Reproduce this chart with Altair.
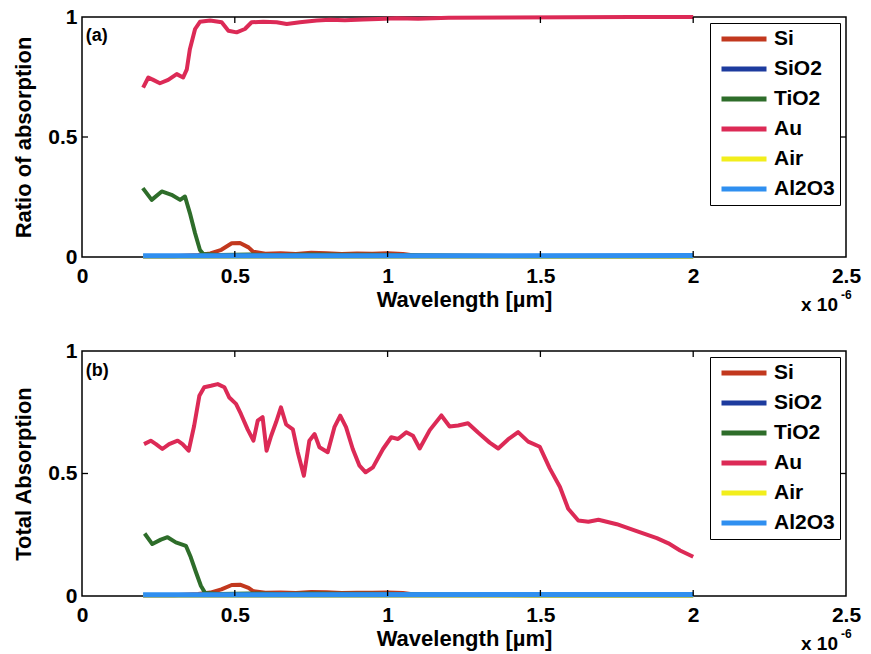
import altair as alt
import pandas as pd

FONT = "Liberation Sans"

SERIES = ["Si", "SiO2", "TiO2", "Au", "Air", "Al2O3"]
COLORS = ["#c2381e", "#1d3b9e", "#2e6d2a", "#dc2a56", "#f2ee1c", "#2f8ff0"]
X_TICKS = [0, 0.5, 1, 1.5, 2, 2.5]
Y_TICKS = [0, 0.5, 1]

# ---------------- panel (a) ----------------
a_au_x = [0.20, 0.217, 0.233, 0.255, 0.282, 0.31, 0.331, 0.343, 0.353, 0.37, 0.386, 0.419, 0.457,
          0.479, 0.506, 0.533, 0.555, 0.593, 0.637, 0.67, 0.713, 0.768, 0.812, 0.86, 0.92, 0.97,
          1.03, 1.1, 1.2, 1.4, 1.6, 1.8, 2.0]
a_au_y = [0.706, 0.748, 0.738, 0.724, 0.738, 0.762, 0.748, 0.782, 0.866, 0.95, 0.98, 0.985, 0.978,
          0.943, 0.936, 0.95, 0.978, 0.98, 0.978, 0.971, 0.978, 0.985, 0.989, 0.986, 0.99, 0.992,
          0.995, 0.993, 0.997, 0.998, 0.999, 1.0, 1.0]
a_tio2_x = [0.199, 0.228, 0.261, 0.293, 0.321, 0.337, 0.353, 0.37, 0.386, 0.397, 0.45, 0.55, 0.65,
            0.75, 0.85, 0.95, 1.05, 1.5, 2.0]
a_tio2_y = [0.287, 0.238, 0.273, 0.259, 0.238, 0.252, 0.183, 0.099, 0.029, 0.012, 0.008, 0.01,
            0.008, 0.01, 0.009, 0.009, 0.008, 0.003, 0.003]
a_si_x = [0.2, 0.3, 0.38, 0.42, 0.456, 0.49, 0.517, 0.545, 0.56, 0.6, 0.65, 0.7, 0.75, 0.8, 0.85,
          0.9, 0.95, 1.0, 1.05, 1.1, 1.5, 2.0]
a_si_y = [0.003, 0.003, 0.008, 0.015, 0.03, 0.057, 0.058, 0.04, 0.022, 0.014, 0.016, 0.013, 0.018,
          0.016, 0.013, 0.015, 0.014, 0.016, 0.013, 0.004, 0.004, 0.004]

# ---------------- panel (b) ----------------
b_au_x = [0.203, 0.225, 0.242, 0.263, 0.285, 0.313, 0.329, 0.349, 0.367, 0.384, 0.40, 0.422, 0.444,
          0.466, 0.482, 0.504, 0.52, 0.542, 0.561, 0.575, 0.591, 0.604, 0.619, 0.635, 0.651, 0.668,
          0.69, 0.706, 0.726, 0.744, 0.761, 0.777, 0.804, 0.826, 0.845, 0.864, 0.886, 0.908, 0.928,
          0.952, 0.985, 1.012, 1.034, 1.061, 1.083, 1.105, 1.138, 1.176, 1.203, 1.231, 1.263, 1.296,
          1.334, 1.362, 1.394, 1.427, 1.46, 1.498, 1.531, 1.564, 1.591, 1.624, 1.657, 1.69, 1.75,
          1.815, 1.881, 1.919, 1.957, 2.0]
b_au_y = [0.62, 0.634, 0.62, 0.60, 0.62, 0.634, 0.62, 0.593, 0.695, 0.817, 0.852, 0.858, 0.865,
          0.852, 0.81, 0.784, 0.743, 0.68, 0.634, 0.716, 0.73, 0.593, 0.654, 0.709, 0.77, 0.70,
          0.68, 0.587, 0.491, 0.634, 0.661, 0.607, 0.587, 0.689, 0.736, 0.689, 0.60, 0.532, 0.505,
          0.525, 0.60, 0.648, 0.641, 0.668, 0.654, 0.602, 0.677, 0.737, 0.692, 0.696, 0.705, 0.667,
          0.626, 0.602, 0.639, 0.669, 0.63, 0.609, 0.52, 0.445, 0.356, 0.308, 0.303, 0.311, 0.293,
          0.265, 0.236, 0.215, 0.186, 0.16]
b_tio2_x = [0.205, 0.23, 0.258, 0.28, 0.307, 0.34, 0.356, 0.373, 0.389, 0.403, 0.45, 0.55, 0.65,
            0.75, 0.85, 0.95, 1.05, 1.5, 2.0]
b_tio2_y = [0.255, 0.212, 0.23, 0.24, 0.219, 0.205, 0.158, 0.097, 0.042, 0.012, 0.008, 0.01, 0.008,
            0.01, 0.009, 0.009, 0.008, 0.003, 0.003]
b_si_x = [0.2, 0.3, 0.38, 0.42, 0.456, 0.49, 0.517, 0.545, 0.56, 0.6, 0.65, 0.7, 0.75, 0.8, 0.85,
          0.9, 0.95, 1.0, 1.05, 1.1, 1.5, 2.0]
b_si_y = [0.003, 0.003, 0.008, 0.014, 0.027, 0.045, 0.046, 0.033, 0.02, 0.013, 0.014, 0.012, 0.016,
          0.015, 0.012, 0.013, 0.013, 0.014, 0.012, 0.004, 0.004, 0.004]

# near-zero layers (hidden under Al2O3 in the original)
flat_x = [0.2, 2.0]
sio2_y = [0.002, 0.002]
air_y = [0.002, 0.002]
al2o3_y = [0.005, 0.006]


def build_panel(series, ytitle, tag, W, H):
    rows = []
    for name in SERIES:
        xs, ys = series[name]
        for i, (x, y) in enumerate(zip(xs, ys)):
            rows.append({"wl": x, "val": y, "mat": name, "i": i})
    df = pd.DataFrame(rows)

    xenc = alt.X("wl:Q", scale=alt.Scale(domain=[0, 2.5], nice=False, zero=False),
                 axis=alt.Axis(values=X_TICKS, format="~g", title="Wavelength [µm]",
                               labelPadding=8, titlePadding=3, labelFlush=False))
    yenc = alt.Y("val:Q", scale=alt.Scale(domain=[0, 1], nice=False),
                 axis=alt.Axis(values=Y_TICKS, format="~g", title=ytitle,
                               labelPadding=5, titlePadding=12))
    color = alt.Color("mat:N", scale=alt.Scale(domain=SERIES, range=COLORS),
                      legend=alt.Legend(title=None, orient="top-right", offset=6,
                                        strokeColor="black", fillColor="white",
                                        padding=5, rowPadding=8, clipHeight=22,
                                        symbolType="stroke", symbolStrokeWidth=5,
                                        symbolSize=2025, symbolOffset=4, labelOffset=5,
                                        labelFont=FONT, labelFontSize=21,
                                        labelFontWeight="bold", labelColor="black"))

    base = alt.Chart(df)
    lines = base.transform_filter(alt.datum.mat != "Al2O3").mark_line(
        strokeWidth=4, strokeJoin="round").encode(x=xenc, y=yenc, color=color, order="i:Q")
    al = base.transform_filter(alt.datum.mat == "Al2O3").mark_line(
        strokeWidth=5).encode(x=xenc, y=yenc, color=color, order="i:Q")

    tx = pd.DataFrame({"wl": [0.5, 1, 1.5, 2]})
    ty = pd.DataFrame({"val": [0.5]})
    t_bot = alt.Chart(tx).mark_rule(color="black", strokeWidth=1.3).encode(
        x=xenc, y=alt.value(H), y2=alt.value(H - 6))
    t_top = alt.Chart(tx).mark_rule(color="black", strokeWidth=1.3).encode(
        x=xenc, y=alt.value(0), y2=alt.value(6))
    t_left = alt.Chart(ty).mark_rule(color="black", strokeWidth=1.3).encode(
        y=yenc, x=alt.value(0), x2=alt.value(6))
    t_right = alt.Chart(ty).mark_rule(color="black", strokeWidth=1.3).encode(
        y=yenc, x=alt.value(W), x2=alt.value(W - 6))

    lab = alt.Chart(pd.DataFrame({"wl": [0.012], "val": [0.92], "txt": [tag]})).mark_text(
        align="left", baseline="middle", font=FONT, fontSize=18, fontWeight="bold",
        color="black").encode(x=xenc, y=yenc, text="txt:N")

    mult = alt.Chart(pd.DataFrame({"wl": [2.5], "txt": ["x 10"]})).mark_text(
        align="right", baseline="middle", font=FONT, fontSize=19, fontWeight="bold",
        color="black", dx=-8).encode(x=xenc, y=alt.value(H + 48), text="txt:N")
    expo = alt.Chart(pd.DataFrame({"wl": [2.5], "txt": ["-6"]})).mark_text(
        align="left", baseline="middle", font=FONT, fontSize=12, fontWeight="bold",
        color="black", dx=-5).encode(x=xenc, y=alt.value(H + 38), text="txt:N")

    return alt.layer(lines, al, t_bot, t_top, t_left, t_right, lab, mult, expo).properties(
        width=W, height=H)


top = build_panel({
    "Si": (a_si_x, a_si_y), "SiO2": (flat_x, sio2_y), "TiO2": (a_tio2_x, a_tio2_y),
    "Au": (a_au_x, a_au_y), "Air": (flat_x, air_y), "Al2O3": (flat_x, al2o3_y)},
    "Ratio of absorption", "(a)", 764, 240)
bottom = build_panel({
    "Si": (b_si_x, b_si_y), "SiO2": (flat_x, sio2_y), "TiO2": (b_tio2_x, b_tio2_y),
    "Au": (b_au_x, b_au_y), "Air": (flat_x, air_y), "Al2O3": (flat_x, al2o3_y)},
    "Total Absorption", "(b)", 764, 245)

chart = alt.vconcat(top, bottom, spacing=23).resolve_legend(color="independent").resolve_scale(
    color="independent").properties(
    padding={"left": 12, "top": 5, "right": 5, "bottom": 2}, background="white"
).configure_view(stroke="black", strokeWidth=1.5).configure_axis(
    labelFont=FONT, labelFontSize=21, labelFontWeight="bold", labelColor="black",
    titleFont=FONT, titleFontSize=22, titleFontWeight="bold", titleColor="black",
    domain=False, ticks=False, grid=False)

chart.save("out.html", embed_options={"renderer": "svg", "actions": False})
